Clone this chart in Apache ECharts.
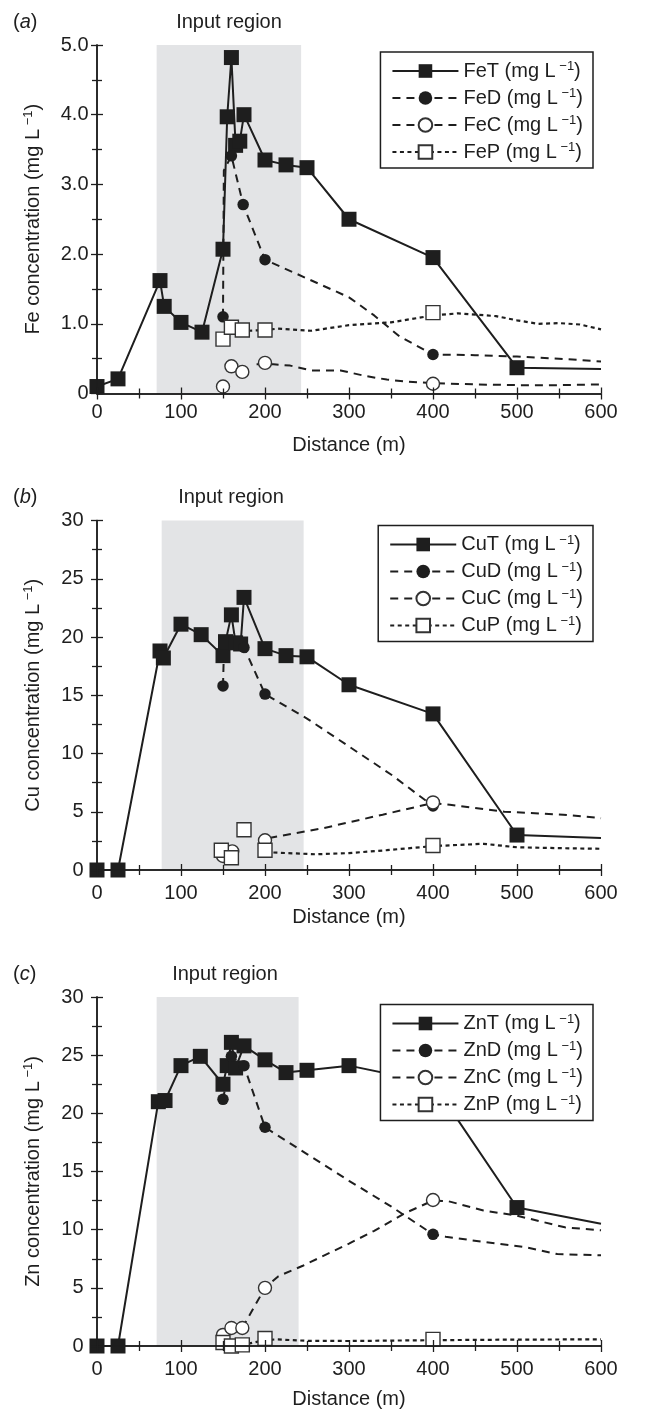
<!DOCTYPE html>
<html>
<head>
<meta charset="utf-8">
<title>Fe, Cu, Zn vs distance</title>
<script src="https://cdn.jsdelivr.net/npm/echarts@6/dist/echarts.min.js"></script>
<style>
html, body { margin: 0; padding: 0; background: #fff; }
#main { width: 651px; height: 1415px; }
</style>
</head>
<body>
<div id="main"></div>
<script type="text/javascript">
// tick labels
var xTicks = ['0', '100', '200', '300', '400', '500', '600'];
var feTicks = ['0', '1.0', '2.0', '3.0', '4.0', '5.0'];
var cuTicks = ['0', '5', '10', '15', '20', '25', '30'];
var znTicks = ['0', '5', '10', '15', '20', '25', '30'];

// input region (m)
var shadeFe = [71, 243];
var shadeCu = [77, 246];
var shadeZn = [71, 240];

// (a) Fe, mg/L : observed points and drawn lines
var feT = [[0, 0.1], [25, 0.21], [75, 1.62], [80, 1.25], [100, 1.02], [125, 0.88], [150, 2.07], [155, 3.97],
  [160, 4.82], [165, 3.56], [170, 3.62], [175, 4.0], [200, 3.35], [225, 3.28], [250, 3.24], [300, 2.5],
  [400, 1.95], [500, 0.37]];
var feTEnd = [600, 0.35];
var feD = [[150, 1.1], [160, 3.41], [174, 2.71], [200, 1.92], [400, 0.56]];
var feDLine = [[150, 1.1], [151, 3.2], [160, 3.41], [174, 2.71], [200, 1.92], [250, 1.65], [300, 1.38], [330, 1.12],
  [360, 0.82], [400, 0.56], [450, 0.55], [500, 0.53], [550, 0.5], [600, 0.46]];
var feC = [[150, 0.1], [160, 0.39], [173, 0.31], [200, 0.44], [400, 0.14]];
var feCLine = [[190, 0.42], [210, 0.42], [230, 0.4], [255, 0.33], [290, 0.33], [320, 0.25], [345, 0.2], [370, 0.17],
  [400, 0.15], [450, 0.13], [500, 0.12], [550, 0.12], [600, 0.13]];
var feP = [[150, 0.78], [160, 0.95], [173, 0.91], [200, 0.91], [400, 1.16]];
var fePLine = [[180, 0.9], [200, 0.91], [215, 0.93], [255, 0.9], [300, 0.98], [350, 1.02], [400, 1.12], [430, 1.15],
  [475, 1.11], [500, 1.05], [525, 1.0], [550, 1.01], [575, 0.99], [600, 0.92]];

// (b) Cu, mg/L
var cuT = [[0, 0], [25, 0], [75, 18.8], [79, 18.2], [100, 21.1], [124, 20.2], [150, 18.4], [153, 19.6], [160, 21.9],
  [165, 19.5], [171, 19.4], [175, 23.4], [200, 19.0], [225, 18.4], [250, 18.3], [300, 15.9], [400, 13.4], [500, 3.0]];
var cuTEnd = [600, 2.75];
var cuD = [[150, 15.8], [175, 19.1], [200, 15.1], [400, 5.5]];
var cuDLine = [[150, 15.8], [151, 18.6], [165, 19.5], [175, 19.1], [200, 15.1], [250, 13.0], [300, 10.6], [350, 8.2],
  [400, 5.5]];
var cuC = [[150, 1.2], [161, 1.6], [200, 2.55], [400, 5.8]];
var cuCLine = [[205, 2.75], [270, 3.6], [340, 4.75], [400, 5.75], [420, 5.6], [485, 5.0], [555, 4.75], [600, 4.45]];
var cuP = [[148, 1.7], [160, 1.05], [175, 3.45], [200, 1.7], [400, 2.1]];
var cuPLine = [[210, 1.5], [260, 1.35], [300, 1.45], [345, 1.7], [400, 2.05], [460, 2.25], [500, 1.95], [555, 1.87],
  [600, 1.82]];

// (c) Zn, mg/L
var znT = [[0, 0], [25, 0], [73, 21.0], [81, 21.1], [100, 24.1], [123, 24.9], [150, 22.5], [155, 24.1], [160, 26.1],
  [165, 23.9], [175, 25.8], [200, 24.6], [225, 23.5], [250, 23.7], [300, 24.1], [400, 22.6], [500, 11.9]];
var znTEnd = [600, 10.5];
var znD = [[150, 21.2], [160, 24.9], [175, 24.1], [200, 18.8], [400, 9.6]];
var znDLine = [[150, 21.2], [160, 24.9], [175, 24.1], [200, 18.8], [250, 16.5], [300, 14.2], [350, 12.0], [400, 9.6],
  [415, 9.4], [460, 8.95], [510, 8.5], [548, 7.9], [600, 7.8]];
var znC = [[150, 0.95], [160, 1.55], [173, 1.55], [200, 5.0], [400, 12.55]];
var znCLine = [[173, 1.55], [200, 5.0], [216, 6.0], [245, 6.9], [300, 8.8], [330, 9.9], [366, 11.4], [400, 12.5],
  [418, 12.45], [460, 11.65], [500, 11.2], [557, 10.2], [600, 9.95]];
var znP = [[150, 0.3], [160, 0.0], [173, 0.1], [200, 0.65], [400, 0.57]];
var znPLine = [[180, 0.2], [200, 0.5], [213, 0.57], [248, 0.45], [300, 0.43], [400, 0.5], [500, 0.55], [600, 0.57]];

var FONT = '"Liberation Sans", Arial, Helvetica, sans-serif';
var INK = '#1e1e1e';

var myChart = echarts.init(document.getElementById('main'), null, { renderer: 'canvas' });

// one entry per panel
var panels = [
  { el: 'Fe', tag: 'a', top: 45, height: 348.5, ymax: 5, yint: 1, yTicks: feTicks, shade: shadeFe,
    labelCenter: 229, xMargin: 9, xNameGap: 42, yMargin: 8.5, legendTop: 52,
    T: feT, TEnd: feTEnd, D: feD, DLine: feDLine, C: feC, CLine: feCLine, P: feP, PLine: fePLine },
  { el: 'Cu', tag: 'b', top: 520.5, height: 349.5, ymax: 30, yint: 5, yTicks: cuTicks, shade: shadeCu,
    labelCenter: 231, xMargin: 13, xNameGap: 37, yMargin: 13.5, legendTop: 525.5,
    T: cuT, TEnd: cuTEnd, D: cuD, DLine: cuDLine, C: cuC, CLine: cuCLine, P: cuP, PLine: cuPLine },
  { el: 'Zn', tag: 'c', top: 997, height: 349, ymax: 30, yint: 5, yTicks: znTicks, shade: shadeZn,
    labelCenter: 225, xMargin: 13, xNameGap: 43, yMargin: 13.5, legendTop: 1004.5,
    T: znT, TEnd: znTEnd, D: znD, DLine: znDLine, C: znC, CLine: znCLine, P: znP, PLine: znPLine }
];

// marker / line look of the four fractions
var looks = {
  T: { symbol: 'rect', size: 15, item: { color: INK, opacity: 1 }, line: { color: INK, width: 2, type: 'solid' } },
  D: { symbol: 'circle', size: 11.5, item: { color: INK, opacity: 1 }, line: { color: INK, width: 2, type: [8, 6] } },
  C: { symbol: 'circle', size: 13, item: { color: '#fff', borderColor: '#333', borderWidth: 1.4, opacity: 1 },
       line: { color: INK, width: 2, type: [8, 6] } },
  P: { symbol: 'rect', size: 14, item: { color: '#fff', borderColor: '#333', borderWidth: 1.4, opacity: 1 },
       line: { color: INK, width: 2.2, type: [4, 3.5] } }
};

var supRich = {
  n: { fontSize: 20, fontFamily: FONT, color: INK, lineHeight: 22, fontWeight: 'normal' },
  s: { fontSize: 13, fontFamily: FONT, color: INK, lineHeight: 13, verticalAlign: 'top', fontWeight: 'normal' }
};

var option = {
  backgroundColor: '#fff',
  animation: false,
  title: [], grid: [], xAxis: [], yAxis: [], legend: [], series: []
};

function tickStyle() {
  return {
    axisLine: { show: true, lineStyle: { color: INK, width: 1.5 } },
    axisTick: { show: true, inside: true, length: 6, lineStyle: { color: INK, width: 1.3 } },
    minorTick: { show: true, splitNumber: 2, length: 5, lineStyle: { color: INK, width: 1.3 } },
    splitLine: { show: false }
  };
}

panels.forEach(function (p, i) {
  option.grid.push({ left: 97, top: p.top, width: 504, height: p.height, outerBoundsMode: 'none' });

  option.title.push({
    text: '{p|(}{i|' + p.tag + '}{p|)}', left: 13, top: p.top - 33, padding: 0,
    textStyle: { fontWeight: 'normal', rich: {
      p: { fontSize: 20, fontFamily: FONT, color: INK, fontWeight: 'normal' },
      i: { fontSize: 20, fontFamily: FONT, color: INK, fontStyle: 'italic', fontWeight: 'normal' } } }
  });
  option.title.push({
    text: 'Input region', left: p.labelCenter, top: p.top - 33, padding: 0, textAlign: 'center',
    textStyle: { fontSize: 20, fontFamily: FONT, color: INK, fontWeight: 'normal' }
  });

  var xb = tickStyle();
  Object.assign(xb, {
    type: 'value', gridIndex: i, position: 'bottom', min: 0, max: 600, interval: 100, z: 3,
    name: 'Distance (m)', nameLocation: 'middle', nameGap: p.xNameGap,
    nameTextStyle: { fontSize: 20, fontFamily: FONT, color: INK },
    axisLabel: { margin: p.xMargin, fontSize: 20, fontFamily: FONT, color: INK,
      formatter: function (v) { return xTicks[Math.round(v / 100)]; } }
  });
  option.xAxis[i] = xb;
  var xt = tickStyle();
  Object.assign(xt, { type: 'value', gridIndex: i, position: 'top', min: 0, max: 600, interval: 100, z: 3,
    axisLabel: { show: false } });
  option.xAxis[i + 3] = xt;

  var yl = tickStyle();
  Object.assign(yl, {
    type: 'value', gridIndex: i, position: 'left', min: 0, max: p.ymax, interval: p.yint, z: 3,
    name: '{n|' + p.el + ' concentration (mg L}{s| \u22121}{n|)}', nameLocation: 'middle', nameGap: 53,
    nameTextStyle: { rich: supRich },
    axisLabel: { margin: p.yMargin, fontSize: 20, fontFamily: FONT, color: INK,
      formatter: function (v) { return p.yTicks[Math.round(v / p.yint)]; } }
  });
  option.yAxis[i] = yl;
  var yr = tickStyle();
  Object.assign(yr, { type: 'value', gridIndex: i, position: 'right', min: 0, max: p.ymax, interval: p.yint, z: 3,
    axisLabel: { show: false } });
  option.yAxis[i + 3] = yr;

  var names = ['T', 'D', 'C', 'P'].map(function (k) { return p.el + k; });
  option.legend.push({
    data: names, orient: 'vertical', right: 58, top: p.legendTop,
    itemWidth: 66, itemHeight: 17, itemGap: 6, padding: [8, 10, 6, 11],
    borderColor: INK, borderWidth: 1.5, backgroundColor: '#fff', selectedMode: false,
    textStyle: { rich: supRich },
    formatter: function (name) { return '{n|' + name + ' (mg L}{s| \u22121}{n|)}'; }
  });

  ['T', 'D', 'C', 'P'].forEach(function (k) {
    var lk = looks[k];
    var lineData = k === 'T' ? p.T.concat([p.TEnd]) : p[k + 'Line'];
    var lineSeries = {
      name: p.el + k, type: 'line', xAxisIndex: i, yAxisIndex: i, data: lineData,
      symbol: lk.symbol, symbolSize: lk.size, showSymbol: false, silent: true, z: 2,
      lineStyle: lk.line, itemStyle: lk.item
    };
    if (k === 'T') {
      lineSeries.markArea = { silent: true, itemStyle: { color: '#e3e4e6', opacity: 1 },
        data: [[{ xAxis: p.shade[0] }, { xAxis: p.shade[1] }]] };
    }
    option.series.push(lineSeries);
    option.series.push({
      name: p.el + k, type: 'scatter', xAxisIndex: i, yAxisIndex: i, data: p[k],
      symbol: lk.symbol, symbolSize: lk.size, clip: false, silent: true, z: 2,
      itemStyle: lk.item
    });
  });
});

myChart.setOption(option);
window.addEventListener('resize', function () { myChart.resize(); });
</script>
</body>
</html>
